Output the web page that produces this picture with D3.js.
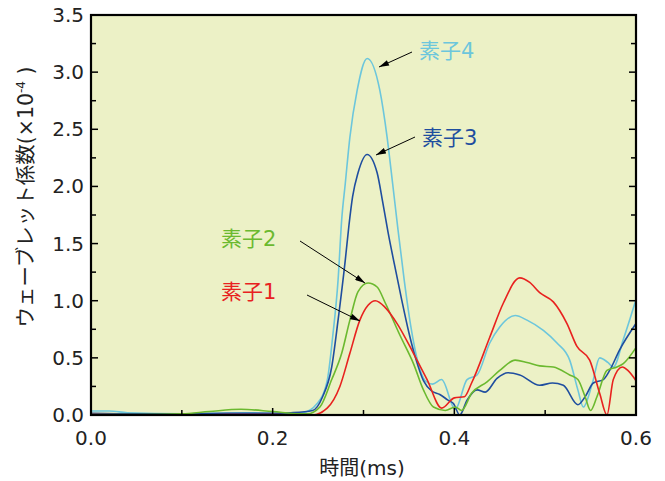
<!DOCTYPE html>
<html>
<head>
<meta charset="utf-8">
<script src="https://cdn.jsdelivr.net/npm/d3@7"></script>
<style>
  body { margin: 0; background: #fff; }
  text { font-family: "DejaVu Sans", "Noto Sans CJK JP", sans-serif; }
</style>
</head>
<body>
<svg width="665" height="481"></svg>
<script>
// time (ms), value (x10^-4) pairs
var elem4 = [[0,0.035],[0.02,0.035],[0.04,0.02],[0.1,0.01],[0.17,0.02],[0.2,0.015],[0.22,0.015],[0.233,0.02],[0.249,0.1],[0.26,0.3],[0.266,0.68],[0.272,1.18],[0.276,1.71],[0.28,2.03],[0.285,2.43],[0.293,2.84],[0.304,3.12],[0.318,2.84],[0.326,2.43],[0.332,2.03],[0.338,1.62],[0.345,1.17],[0.352,0.78],[0.36,0.46],[0.368,0.3],[0.376,0.27],[0.386,0.31],[0.401,0.05],[0.414,0.31],[0.425,0.35],[0.439,0.63],[0.45,0.77],[0.467,0.87],[0.48,0.83],[0.498,0.74],[0.513,0.63],[0.527,0.48],[0.536,0.22],[0.542,0.07],[0.552,0.28],[0.56,0.5],[0.569,0.46],[0.575,0.42],[0.586,0.66],[0.6,1.01]];
var elem3 = [[0,0.015],[0.05,0.01],[0.1,0.01],[0.15,0.015],[0.2,0.015],[0.22,0.02],[0.244,0.04],[0.255,0.16],[0.265,0.42],[0.272,0.83],[0.28,1.36],[0.284,1.66],[0.288,1.91],[0.294,2.12],[0.304,2.28],[0.315,2.12],[0.321,1.87],[0.327,1.6],[0.334,1.32],[0.342,1.01],[0.35,0.72],[0.358,0.48],[0.366,0.3],[0.375,0.21],[0.384,0.18],[0.393,0.13],[0.399,0.1],[0.406,0.0],[0.414,0.13],[0.425,0.22],[0.434,0.2],[0.447,0.32],[0.459,0.37],[0.472,0.35],[0.494,0.26],[0.508,0.28],[0.52,0.26],[0.536,0.09],[0.544,0.16],[0.553,0.28],[0.564,0.31],[0.571,0.39],[0.582,0.57],[0.6,0.8]];
var elem2 = [[0,0.005],[0.05,0.005],[0.1,0.01],[0.13,0.03],[0.165,0.05],[0.2,0.03],[0.23,0.01],[0.238,0.01],[0.252,0.07],[0.265,0.31],[0.276,0.54],[0.285,0.83],[0.294,1.08],[0.305,1.155],[0.315,1.12],[0.324,0.98],[0.34,0.7],[0.355,0.45],[0.366,0.22],[0.377,0.07],[0.39,0.04],[0.401,0.07],[0.408,0.04],[0.419,0.19],[0.436,0.29],[0.45,0.39],[0.467,0.48],[0.48,0.46],[0.494,0.43],[0.509,0.42],[0.527,0.35],[0.536,0.31],[0.544,0.16],[0.55,0.04],[0.557,0.16],[0.568,0.39],[0.579,0.42],[0.586,0.45],[0.6,0.59]];
var elem1 = [[0,0.005],[0.1,0.0],[0.15,0.005],[0.2,0.005],[0.244,0.0],[0.26,0.06],[0.274,0.25],[0.285,0.54],[0.296,0.83],[0.305,0.96],[0.313,1.0],[0.324,0.94],[0.337,0.8],[0.355,0.54],[0.37,0.31],[0.386,0.06],[0.4,0.15],[0.411,0.16],[0.419,0.28],[0.439,0.68],[0.454,0.98],[0.472,1.2],[0.483,1.16],[0.494,1.07],[0.509,0.99],[0.524,0.8],[0.535,0.6],[0.549,0.48],[0.56,0.19],[0.568,0.0],[0.575,0.31],[0.585,0.42],[0.591,0.39],[0.6,0.3]];

var names = ["素子4", "素子3", "素子2", "素子1"];
var colors = ["#6cc6dc", "#1f4e9f", "#6bb92f", "#e8221f"];
var xTicks = [0, 0.2, 0.4, 0.6];
var yTicks = [0, 0.5, 1.0, 1.5, 2.0, 2.5, 3.0, 3.5];

var svg = d3.select("svg"),
    pLeft = 91, pRight = 636, pTop = 15, pBottom = 415;

var x = d3.scaleLinear().domain([0, 0.6]).range([pLeft, pRight]);
var y = d3.scaleLinear().domain([0, 3.5]).range([pBottom, pTop]);

svg.append("rect")
    .attr("x", pLeft).attr("y", pTop)
    .attr("width", pRight - pLeft).attr("height", pBottom - pTop)
    .attr("fill", "#ecf1c6");

svg.append("clipPath").attr("id", "clip")
  .append("rect").attr("x", pLeft).attr("y", pTop)
    .attr("width", pRight - pLeft).attr("height", pBottom - pTop);

var line = d3.line()
    .x(function(d) { return x(d[0]); })
    .y(function(d) { return y(d[1]); })
    .curve(d3.curveMonotoneX);

var series = [elem4, elem3, elem2, elem1];
svg.append("g").attr("clip-path", "url(#clip)")
  .selectAll("path")
  .data(series)
  .enter().append("path")
    .attr("d", line)
    .attr("fill", "none")
    .attr("stroke", function(d, i) { return colors[i]; })
    .attr("stroke-width", 1.6);

// ticks, inside
var ax = svg.append("g").attr("stroke", "#000");
d3.range(0, 0.6001, 0.1).forEach(function(t, i) {
  var len = i % 2 == 0 ? 7 : 5;
  ax.append("line").attr("x1", x(t)).attr("x2", x(t))
    .attr("y1", pBottom).attr("y2", pBottom - len).attr("stroke-width", 1.5);
});
d3.range(0, 3.5001, 0.25).forEach(function(v, i) {
  var len = i % 2 == 0 ? 7 : 5;
  ax.append("line").attr("x1", pLeft).attr("x2", pLeft + len)
    .attr("y1", y(v)).attr("y2", y(v)).attr("stroke-width", 1.5);
  ax.append("line").attr("x1", pRight).attr("x2", pRight - len)
    .attr("y1", y(v)).attr("y2", y(v)).attr("stroke-width", 1.5);
});

svg.append("rect")
    .attr("x", pLeft).attr("y", pTop)
    .attr("width", pRight - pLeft).attr("height", pBottom - pTop)
    .attr("fill", "none").attr("stroke", "#000").attr("stroke-width", 2.2);

svg.selectAll(".xt").data(xTicks).enter().append("text")
    .attr("x", function(d) { return x(d); })
    .attr("y", 445)
    .attr("text-anchor", "middle")
    .attr("font-size", 20)
    .attr("fill", "#222")
    .text(function(d) { return d.toFixed(1); });

svg.selectAll(".yt").data(yTicks).enter().append("text")
    .attr("x", 84)
    .attr("y", function(d) { return y(d) + 7; })
    .attr("text-anchor", "end")
    .attr("font-size", 20)
    .attr("fill", "#222")
    .text(function(d) { return d.toFixed(1); });

svg.append("text")
    .attr("x", 362).attr("y", 475)
    .attr("text-anchor", "middle")
    .attr("font-size", 20)
    .attr("fill", "#222")
    .text("時間(ms)");

var yl = svg.append("text")
    .attr("transform", "translate(33,197) rotate(-90)")
    .attr("text-anchor", "middle")
    .attr("font-size", 20.5)
    .attr("fill", "#222");
yl.append("tspan").text("ウェーブレット係数(×10");
yl.append("tspan").attr("font-size", 12).attr("dy", -8).text("-4");
yl.append("tspan").attr("dy", 8).text(" )");

// annotations
svg.append("defs").append("marker")
    .attr("id", "arr").attr("viewBox", "0 0 10 6")
    .attr("refX", 10).attr("refY", 3)
    .attr("markerWidth", 11).attr("markerHeight", 6)
    .attr("markerUnits", "userSpaceOnUse")
    .attr("orient", "auto")
  .append("path").attr("d", "M0,0L10,3L0,6Z").attr("fill", "#000");

var labelPos = [[419, 58], [422, 145], [221, 246], [221, 299]];
var arrows = [[412, 52, 379, 67], [415, 137, 376, 155], [300, 241, 365, 283], [307, 295, 360, 321]];

svg.selectAll(".lab").data(names).enter().append("text")
    .attr("x", function(d, i) { return labelPos[i][0]; })
    .attr("y", function(d, i) { return labelPos[i][1]; })
    .attr("font-size", 21)
    .attr("fill", function(d, i) { return colors[i]; })
    .text(function(d) { return d; });

svg.selectAll(".arrow").data(arrows).enter().append("line")
    .attr("x1", function(d) { return d[0]; })
    .attr("y1", function(d) { return d[1]; })
    .attr("x2", function(d) { return d[2]; })
    .attr("y2", function(d) { return d[3]; })
    .attr("stroke", "#000").attr("stroke-width", 1)
    .attr("marker-end", "url(#arr)");
</script>
</body>
</html>
